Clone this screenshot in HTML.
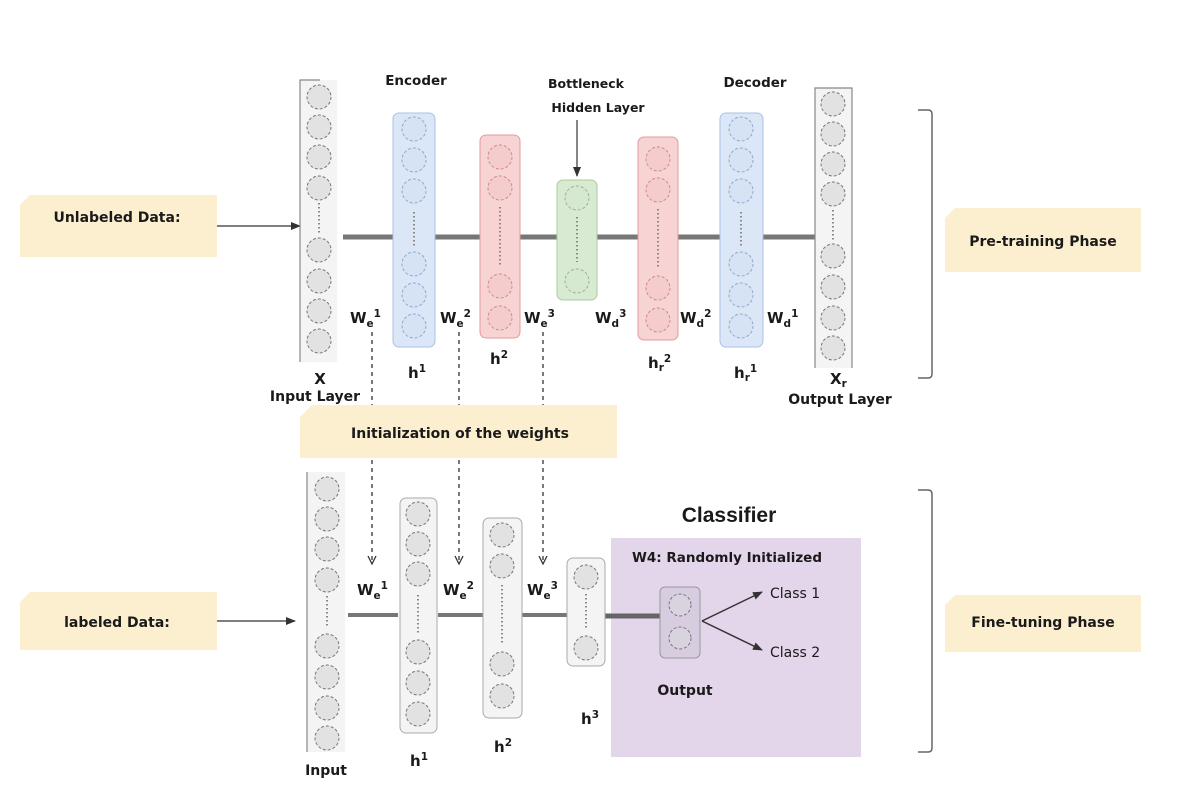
<!DOCTYPE html>
<html><head><meta charset="utf-8"><style>
html,body{margin:0;padding:0;background:#fff;}
svg{display:block;}
text{font-family:"DejaVu Sans","Liberation Sans",sans-serif;font-weight:bold;fill:#1a1a1a;}
.c{fill:#e2e2e2;stroke:#777;stroke-width:1;stroke-dasharray:3 2;}
.cb{fill:#d6e3f5;stroke:#8fa9d0;stroke-width:1;stroke-dasharray:3 2;}
.cr{fill:#f5cccc;stroke:#d08a8a;stroke-width:1;stroke-dasharray:3 2;}
.cg{fill:#d6e8cf;stroke:#93b88a;stroke-width:1;stroke-dasharray:3 2;}
.dots{stroke:#888;stroke-width:2;stroke-dasharray:1.5 2.5;}
</style></head><body>
<svg width="1182" height="788" viewBox="0 0 1182 788" xmlns="http://www.w3.org/2000/svg">
<defs>
<marker id="ah" markerWidth="10" markerHeight="8" refX="9" refY="4" orient="auto" markerUnits="userSpaceOnUse"><path d="M0,0 L10,4 L0,8 Z" fill="#333"/></marker>
<marker id="av" markerWidth="10" markerHeight="10" refX="9" refY="5" orient="auto" markerUnits="userSpaceOnUse"><path d="M1,1 L9,5 L1,9" fill="none" stroke="#333" stroke-width="1.3"/></marker>
</defs>

<path d="M30,195 L217,195 L217,257 L20,257 L20,205 Z" fill="#fcefcf"/>
<text x="117" y="222" font-size="14" text-anchor="middle">Unlabeled Data:</text>
<line x1="217" y1="226" x2="300" y2="226" stroke="#333" stroke-width="1.3" marker-end="url(#ah)"/>

<path d="M955,208 L1141,208 L1141,272 L945,272 L945,218 Z" fill="#fcefcf"/>
<text x="1043" y="246" font-size="14" text-anchor="middle">Pre-training Phase</text>
<path d="M918,110 L928,110 Q932,110 932,114 L932,374 Q932,378 928,378 L918,378" fill="none" stroke="#666" stroke-width="1.5"/>

<line x1="343" y1="237" x2="815" y2="237" stroke="#777" stroke-width="5"/>

<rect x="300" y="80" width="37" height="282" fill="#f4f4f4"/>
<path d="M320,80 L300,80 L300,362" fill="none" stroke="#888" stroke-width="1.2"/>
<g class="c"><circle cx="319" cy="97" r="12"/><circle cx="319" cy="127" r="12"/><circle cx="319" cy="157" r="12"/><circle cx="319" cy="188" r="12"/>
<circle cx="319" cy="250" r="12"/><circle cx="319" cy="281" r="12"/><circle cx="319" cy="311" r="12"/><circle cx="319" cy="341" r="12"/></g>
<line class="dots" x1="319" y1="203" x2="319" y2="234"/>

<rect x="393" y="113" width="42" height="234" rx="6" fill="#dbe6f7" stroke="#a9c1e6"/>
<g class="cb"><circle cx="414" cy="129" r="12"/><circle cx="414" cy="160" r="12"/><circle cx="414" cy="191" r="12"/>
<circle cx="414" cy="264" r="12"/><circle cx="414" cy="295" r="12"/><circle cx="414" cy="326" r="12"/></g>
<line class="dots" x1="414" y1="212" x2="414" y2="248"/>

<rect x="480" y="135" width="40" height="203" rx="6" fill="#f7d3d3" stroke="#e19b9b"/>
<g class="cr"><circle cx="500" cy="157" r="12"/><circle cx="500" cy="188" r="12"/><circle cx="500" cy="286" r="12"/><circle cx="500" cy="318" r="12"/></g>
<line class="dots" x1="500" y1="207" x2="500" y2="266"/>

<rect x="557" y="180" width="40" height="120" rx="6" fill="#d9ead3" stroke="#a9cc9c"/>
<g class="cg"><circle cx="577" cy="198" r="12"/><circle cx="577" cy="281" r="12"/></g>
<line class="dots" x1="577" y1="217" x2="577" y2="262"/>
<line x1="577" y1="120" x2="577" y2="176" stroke="#444" stroke-width="1.3" marker-end="url(#ah)"/>

<rect x="638" y="137" width="40" height="203" rx="6" fill="#f7d3d3" stroke="#e19b9b"/>
<g class="cr"><circle cx="658" cy="159" r="12"/><circle cx="658" cy="190" r="12"/><circle cx="658" cy="288" r="12"/><circle cx="658" cy="320" r="12"/></g>
<line class="dots" x1="658" y1="209" x2="658" y2="268"/>

<rect x="720" y="113" width="43" height="234" rx="6" fill="#dbe6f7" stroke="#a9c1e6"/>
<g class="cb"><circle cx="741" cy="129" r="12"/><circle cx="741" cy="160" r="12"/><circle cx="741" cy="191" r="12"/>
<circle cx="741" cy="264" r="12"/><circle cx="741" cy="295" r="12"/><circle cx="741" cy="326" r="12"/></g>
<line class="dots" x1="741" y1="212" x2="741" y2="248"/>

<rect x="815" y="88" width="37" height="280" fill="#f4f4f4"/>
<path d="M815,368 L815,88 L852,88 L852,368" fill="none" stroke="#888" stroke-width="1.2"/>
<g class="c"><circle cx="833" cy="104" r="12"/><circle cx="833" cy="134" r="12"/><circle cx="833" cy="164" r="12"/><circle cx="833" cy="194" r="12"/>
<circle cx="833" cy="256" r="12"/><circle cx="833" cy="287" r="12"/><circle cx="833" cy="318" r="12"/><circle cx="833" cy="348" r="12"/></g>
<line class="dots" x1="833" y1="210" x2="833" y2="240"/>

<text x="416" y="85" font-size="13.5" text-anchor="middle">Encoder</text>
<text x="586" y="88" font-size="12.5" text-anchor="middle">Bottleneck</text>
<text x="598" y="112" font-size="12.5" text-anchor="middle">Hidden Layer</text>
<text x="755" y="87" font-size="13.5" text-anchor="middle">Decoder</text>

<g font-size="15">
<text x="350" y="323">W<tspan font-size="10.5" dy="4">e</tspan><tspan font-size="10.5" dy="-10">1</tspan></text>
<text x="440" y="323">W<tspan font-size="10.5" dy="4">e</tspan><tspan font-size="10.5" dy="-10">2</tspan></text>
<text x="524" y="323">W<tspan font-size="10.5" dy="4">e</tspan><tspan font-size="10.5" dy="-10">3</tspan></text>
<text x="595" y="323">W<tspan font-size="10.5" dy="4">d</tspan><tspan font-size="10.5" dy="-10">3</tspan></text>
<text x="680" y="323">W<tspan font-size="10.5" dy="4">d</tspan><tspan font-size="10.5" dy="-10">2</tspan></text>
<text x="767" y="323">W<tspan font-size="10.5" dy="4">d</tspan><tspan font-size="10.5" dy="-10">1</tspan></text>
<text x="408" y="378">h<tspan font-size="10.5" dy="-6">1</tspan></text>
<text x="490" y="364">h<tspan font-size="10.5" dy="-6">2</tspan></text>
<text x="648" y="368">h<tspan font-size="10.5" dy="3">r</tspan><tspan font-size="10.5" dy="-9">2</tspan></text>
<text x="734" y="378">h<tspan font-size="10.5" dy="3">r</tspan><tspan font-size="10.5" dy="-9">1</tspan></text>
<text x="320" y="384" text-anchor="middle">X</text>
<text x="830" y="384">X<tspan font-size="10.5" dy="3">r</tspan></text>
</g>
<text x="315" y="401" font-size="14" text-anchor="middle">Input Layer</text>
<text x="840" y="404" font-size="14" text-anchor="middle">Output Layer</text>

<g stroke="#333" stroke-width="1.3" stroke-dasharray="4 4" fill="none">
<line x1="372" y1="332" x2="372" y2="564" marker-end="url(#av)"/>
<line x1="459" y1="332" x2="459" y2="564" marker-end="url(#av)"/>
<line x1="543" y1="332" x2="543" y2="564" marker-end="url(#av)"/>
</g>

<path d="M312,405 L617,405 L617,458 L300,458 L300,417 Z" fill="#fcefcf"/>
<text x="460" y="438" font-size="14" text-anchor="middle">Initialization of the weights</text>

<path d="M30,592 L217,592 L217,650 L20,650 L20,602 Z" fill="#fcefcf"/>
<text x="117" y="627" font-size="14" text-anchor="middle">labeled Data:</text>
<line x1="217" y1="621" x2="295" y2="621" stroke="#333" stroke-width="1.3" marker-end="url(#ah)"/>

<path d="M955,595 L1141,595 L1141,652 L945,652 L945,605 Z" fill="#fcefcf"/>
<text x="1043" y="627" font-size="14" text-anchor="middle">Fine-tuning Phase</text>
<path d="M918,490 L928,490 Q932,490 932,494 L932,748 Q932,752 928,752 L918,752" fill="none" stroke="#666" stroke-width="1.5"/>

<rect x="611" y="538" width="250" height="219" fill="#e3d6ea"/>
<text x="729" y="522" font-size="21" text-anchor="middle" style="font-family:'Liberation Sans',sans-serif" fill="#000">Classifier</text>
<text x="727" y="562" font-size="13.5" text-anchor="middle" fill="#4a3a55">W4: Randomly Initialized</text>

<g stroke="#777" stroke-width="4">
<line x1="348" y1="615" x2="398" y2="615"/>
<line x1="438" y1="615" x2="483" y2="615"/>
<line x1="522" y1="615" x2="567" y2="615"/>
</g>
<line x1="605" y1="616" x2="660" y2="616" stroke="#666" stroke-width="5"/>

<rect x="307" y="472" width="38" height="280" fill="#f4f4f4"/>
<line x1="307" y1="472" x2="307" y2="752" stroke="#888" stroke-width="1.2"/>
<g class="c"><circle cx="327" cy="489" r="12"/><circle cx="327" cy="519" r="12"/><circle cx="327" cy="549" r="12"/><circle cx="327" cy="580" r="12"/>
<circle cx="327" cy="646" r="12"/><circle cx="327" cy="677" r="12"/><circle cx="327" cy="708" r="12"/><circle cx="327" cy="738" r="12"/></g>
<line class="dots" x1="327" y1="596" x2="327" y2="628"/>

<rect x="400" y="498" width="37" height="235" rx="6" fill="#f4f4f4" stroke="#aaa"/>
<g class="c"><circle cx="418" cy="514" r="12"/><circle cx="418" cy="544" r="12"/><circle cx="418" cy="574" r="12"/>
<circle cx="418" cy="652" r="12"/><circle cx="418" cy="683" r="12"/><circle cx="418" cy="714" r="12"/></g>
<line class="dots" x1="418" y1="595" x2="418" y2="633"/>

<rect x="483" y="518" width="39" height="200" rx="6" fill="#f4f4f4" stroke="#aaa"/>
<g class="c"><circle cx="502" cy="535" r="12"/><circle cx="502" cy="566" r="12"/><circle cx="502" cy="664" r="12"/><circle cx="502" cy="696" r="12"/></g>
<line class="dots" x1="502" y1="585" x2="502" y2="645"/>

<rect x="567" y="558" width="38" height="108" rx="6" fill="#f4f4f4" stroke="#aaa"/>
<g class="c"><circle cx="586" cy="577" r="12"/><circle cx="586" cy="648" r="12"/></g>
<line class="dots" x1="586" y1="594" x2="586" y2="630"/>

<rect x="660" y="587" width="40" height="71" rx="5" fill="#d8cde0" stroke="#999"/>
<g class="c" style="fill:#d9d2df"><circle cx="680" cy="605" r="11"/><circle cx="680" cy="638" r="11"/></g>
<g stroke="#333" stroke-width="1.5">
<line x1="702" y1="621" x2="762" y2="592" marker-end="url(#ah)"/>
<line x1="702" y1="621" x2="762" y2="650" marker-end="url(#ah)"/>
</g>
<text x="770" y="598" font-size="14" style="font-weight:normal;font-family:'DejaVu Sans',sans-serif" fill="#333">Class 1</text>
<text x="770" y="657" font-size="14" style="font-weight:normal;font-family:'DejaVu Sans',sans-serif" fill="#333">Class 2</text>
<text x="685" y="695" font-size="14" text-anchor="middle">Output</text>

<g font-size="15">
<text x="357" y="595">W<tspan font-size="10.5" dy="4">e</tspan><tspan font-size="10.5" dy="-10">1</tspan></text>
<text x="443" y="595">W<tspan font-size="10.5" dy="4">e</tspan><tspan font-size="10.5" dy="-10">2</tspan></text>
<text x="527" y="595">W<tspan font-size="10.5" dy="4">e</tspan><tspan font-size="10.5" dy="-10">3</tspan></text>
<text x="410" y="766">h<tspan font-size="10.5" dy="-6">1</tspan></text>
<text x="494" y="752">h<tspan font-size="10.5" dy="-6">2</tspan></text>
<text x="581" y="724">h<tspan font-size="10.5" dy="-6">3</tspan></text>
</g>
<text x="326" y="775" font-size="14" text-anchor="middle">Input</text>
</svg>
</body></html>
